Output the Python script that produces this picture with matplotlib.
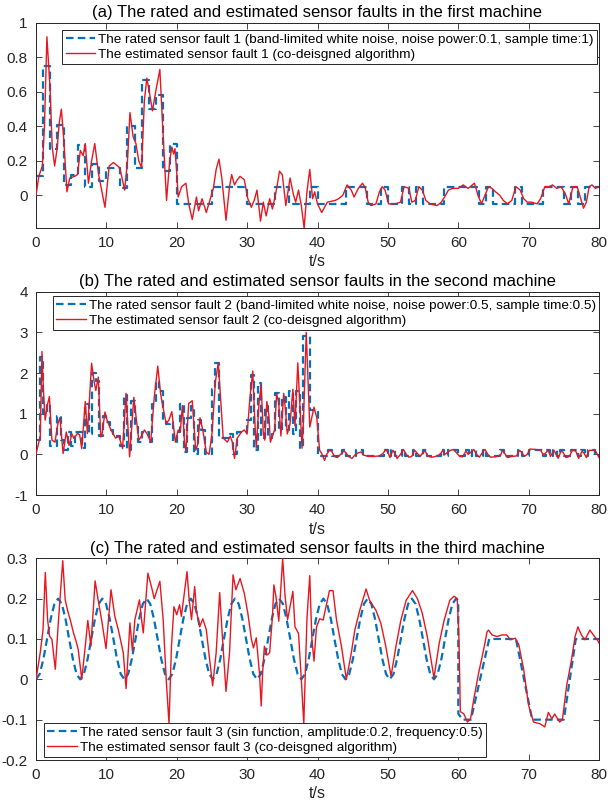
import matplotlib
matplotlib.use("Agg")
import matplotlib.pyplot as plt

plt.rcParams['font.family'] = ['Liberation Sans', 'DejaVu Sans']

# ---------------- data ----------------
titles = ["(a) The rated and estimated sensor faults in the first machine",
          "(b) The rated and estimated sensor faults in the second machine",
          "(c) The rated and estimated sensor faults in the third machine"]
legend_rated = ["The rated sensor fault 1 (band-limited white noise, noise power:0.1, sample time:1)",
                "The rated sensor fault 2 (band-limited white noise, noise power:0.5, sample time:0.5)",
                "The rated sensor fault 3 (sin function, amplitude:0.2, frequency:0.5)"]
legend_est = ["The estimated sensor fault 1 (co-deisgned algorithm)",
              "The estimated sensor fault 2 (co-deisgned algorithm)",
              "The estimated sensor fault 3 (co-deisgned algorithm)"]
xlabel_text = "t/s"
x_ticks = [0, 10, 20, 30, 40, 50, 60, 70, 80]
y_ticks_a = [0, 0.2, 0.4, 0.6, 0.8, 1]
y_ticklabels_a = ["0", "0.2", "0.4", "0.6", "0.8", "1"]
y_ticks_b = [-1, 0, 1, 2, 3, 4]
y_ticklabels_b = ["-1", "0", "1", "2", "3", "4"]
y_ticks_c = [-0.2, -0.1, 0, 0.1, 0.2, 0.3]
y_ticklabels_c = ["-0.2", "-0.1", "0", "0.1", "0.2", "0.3"]

# rated fault 1 (step changes: time, level)
rated1_t = [0, 1, 2, 3, 4, 5, 6, 7, 8, 9, 10, 12, 13, 14, 15, 16, 17, 18, 19, 20,
            25, 30, 34, 36, 39, 40, 44, 47, 49, 50, 52, 53, 54, 55, 58, 63, 64, 65,
            68, 69, 72, 75, 76, 77, 78, 80]
rated1_v = [0.11, 0.75, 0.27, 0.41, 0.06, 0.12, 0.29, 0.05, 0.18, 0.08, 0.16, 0.04, 0.40,
            0.16, 0.67, 0.50, 0.58, 0.14, 0.30, -0.05,
            0.05, -0.05, 0.05, -0.05, 0.05, -0.05, 0.05, -0.05, 0.05, -0.05, 0.05, -0.05,
            0.05, -0.05, 0.05, -0.05, 0.05, -0.05, 0.05, -0.05, 0.05, -0.05, 0.05, -0.05,
            0.05, 0.05]

# estimated fault 1
est1_t = [0, 0.4, 0.9, 1.2, 1.55, 2.0, 2.3, 2.65, 3.0, 3.3, 3.6, 3.9, 4.4, 4.8, 5.5, 5.9,
          6.3, 6.7, 7.0, 7.45, 7.9, 8.35, 8.9, 9.8, 10.4, 11.0, 11.9, 12.6, 13.0, 13.35,
          13.8, 14.2, 14.6, 15.0, 15.4, 15.75, 16.1, 16.55, 17.0, 17.6, 18.0, 18.55, 19.0,
          19.3, 19.55, 19.75, 20.0, 20.2, 20.7, 21.3, 21.7, 22.2, 22.8, 23.1, 23.6, 24.2,
          24.7, 25.2, 25.6, 26.0, 26.4, 27.0, 27.5, 27.8, 28.2, 28.6, 29.0, 29.6, 30.1,
          30.6, 31.0, 31.4, 31.9, 32.3, 32.7, 33.2, 33.6, 34.2, 34.6, 35.0, 35.5, 36.1,
          36.6, 36.9, 37.3, 37.7, 38.1, 38.5, 38.9, 39.3, 39.6, 40.0, 40.6, 41.4, 42.5,
          43.0, 43.6, 44.2, 44.8, 45.2, 45.8, 46.4, 46.8, 47.2, 47.6, 48.3, 48.8, 49.2,
          49.6, 50.1, 51.0, 51.8, 52.3, 53.0, 53.4, 53.9, 54.4, 54.9, 55.4, 56.0, 57.0,
          57.6, 58.2, 58.6, 59.2, 60.0, 60.7, 61.4, 62.3, 62.8, 63.3, 63.8, 64.3, 64.8,
          65.3, 65.9, 66.4, 67.0, 67.6, 68.2, 68.8, 69.3, 69.8, 70.4, 71.2, 71.7, 72.3,
          72.9, 73.4, 74.0, 74.6, 75.2, 75.7, 76.3, 76.9, 77.4, 77.8, 78.2, 78.6, 79.0,
          79.5, 80.0]
est1_v = [0, 0.11, 0.17, 0.4, 0.92, 0.62, 0.28, 0.17, 0.27, 0.42, 0.50, 0.35, 0.02, 0.10,
          0.11, 0.12, 0.26, 0.23, 0.30, 0.07, 0.2, 0.30, 0.12, -0.07, 0.17, 0.19, 0.16,
          0.03, 0.2, 0.48, 0.34, 0.3, 0.2, 0.16, 0.55, 0.68, 0.6, 0.49, 0.6, 0.73, 0.4,
          -0.03, 0.2, 0.28, 0.24, 0.27, 0.13, -0.01, 0.05, 0.07, -0.05, -0.14, -0.01,
          -0.09, -0.02, -0.1, -0.03, 0.04, 0.15, 0.21, 0.1, -0.145, 0.05, 0.12, 0.06,
          0.09, 0.11, 0.09, -0.02, -0.07, -0.03, 0.03, -0.15, -0.04, -0.12, -0.02, -0.08,
          0.04, 0.14, 0.12, -0.06, 0.1, 0.0, -0.04, 0.03, -0.06, -0.19, 0.02, 0.15, -0.02,
          0.02, -0.05, -0.10, -0.04, -0.03, -0.02, 0.0, 0.06, 0.03, -0.01, 0.04, 0.07,
          0.04, -0.04, -0.06, -0.05, 0.02, 0.05, 0.03, -0.05, -0.05, -0.04, 0.05, 0.04,
          -0.04, -0.03, 0.05, 0.03, -0.03, -0.05, -0.06, -0.04, 0.0, 0.03, 0.04, 0.04,
          0.06, 0.04, 0.07, 0.0, -0.05, 0.0, 0.05, 0.04, 0.02, 0.0, -0.03, -0.05, -0.03,
          0.05, 0.03, -0.02, -0.04, -0.04, -0.05, -0.02, 0.05, 0.05, 0.06, 0.04, 0.05,
          0.01, -0.05, 0.05, 0.05, -0.02, -0.075, -0.04, 0.05, 0.06, 0.04, 0.05]

# rated fault 2 (step changes: time, level)
rated2_t = [0, 0.5, 1.0, 1.5, 2.0, 3.0, 3.5, 4.0, 4.5, 5.0, 5.5, 6.5, 7.0, 7.5, 8.0, 8.5,
            9.0, 9.5, 10.0, 10.5, 11.0, 12.0, 12.5, 13.0, 13.5, 14.0, 14.5, 15.0, 16.0,
            16.5, 17.0, 17.5, 18.0, 18.5, 19.0, 19.5, 20.0, 20.5, 21.0, 21.5, 22.0, 22.5,
            23.0, 23.5, 24.0, 25.0, 25.5, 26.0, 27.5, 28.0, 28.5, 30.0, 30.5, 31.0, 31.5,
            32.0, 32.5, 33.0, 33.5, 34.0, 34.5, 35.0, 35.5, 36.0, 36.5, 37.0, 37.5, 38.0,
            39.0, 40.0, 41.5, 42.0, 43.5, 44.0, 45.5, 46.5, 49.5, 50.0, 50.5, 51.0, 52.0,
            52.5, 53.5, 54.0, 55.0, 55.5, 57.5, 58.0, 58.5, 60.0, 61.0, 61.5, 62.0, 62.5,
            63.5, 64.0, 66.0, 66.5, 68.5, 69.0, 70.0, 72.0, 72.5, 73.0, 73.5, 74.0, 74.5,
            75.0, 76.0, 77.0, 77.5, 78.0, 78.5, 79.5, 80.0]
rated2_v = [0.35, 2.4, 1.0, 1.25, 0.2, 0.95, 0.35, 0.1, 0.55, 0.2, 0.55, 0.15, 1.25, 0.5,
            2.0, 1.8, 0.45, 0.95, 0.8, 0.6, 0.45, 0.2, 1.45, 0.1, 1.3, 0.75, 0.3, 0.55,
            0.3, 1.25, 1.8, 1.55, 0.85, 0.75, 0.8, 0.3, 0.55, 1.25, 0.05, 0.9, 1.2, 0.0,
            0.85, 0.6, 0.0, 1.6, 2.25, 0.4, 0.5, 0.0, 0.55, 0.85, 1.95, 0.1, 1.75, 0.4,
            1.2, 0.4, 0.5, 1.5, 0.6, 1.4, 0.6, 1.55, 0.5, 1.55, 0.15, 2.9, 1.1,
            -0.05, 0.1, -0.05, 0.1, -0.05, 0.1, -0.05, 0.1, -0.05, 0.1, -0.05, 0.1, -0.05,
            0.1, -0.05, 0.1, -0.05, 0.1, -0.05, 0.1, -0.05, 0.1, -0.05, 0.1, -0.05, 0.1,
            -0.05, 0.1, -0.05, 0.1, -0.05, 0.1, -0.05, 0.1, -0.05, 0.1, -0.05, 0.1, -0.05,
            0.1, -0.05, 0.1, -0.05, 0.1, -0.05, -0.05]

# estimated fault 2
est2_t = [0, 0.4, 0.6, 0.85, 1.05, 1.3, 1.6, 1.9, 2.26, 2.7, 3.1, 3.4, 3.85, 4.3, 4.7,
          5.1, 5.4, 5.9, 6.2, 6.5, 7.0, 7.3, 7.9, 8.25, 8.5, 8.85, 9.2, 9.35, 9.8, 10.1,
          10.6, 11.3, 11.8, 12.3, 12.8, 13.3, 13.9, 14.3, 14.6, 15.0, 15.4, 15.8, 16.3,
          16.8, 17.3, 17.7, 18.0, 18.5, 18.9, 19.3, 19.6, 19.8, 20.2, 20.5, 20.8, 21.1,
          21.3, 21.7, 22.2, 22.7, 23.0, 23.3, 23.7, 24.2, 24.6, 25.0, 25.5, 25.9, 26.3,
          26.6, 27.2, 27.6, 27.9, 28.2, 28.6, 29.2, 29.6, 30.0, 30.4, 30.8, 31.1, 31.3,
          31.7, 32.0, 32.3, 32.5, 32.8, 33.1, 33.3, 33.6, 33.9, 34.2, 34.5, 34.8, 35.2,
          35.5, 35.7, 36.1, 36.5, 36.8, 37.2, 37.5, 37.8, 38.0, 38.4, 38.9, 39.5, 39.9,
          40.3, 40.6, 41.0, 41.3, 41.7, 42.0, 42.4, 42.8, 43.3, 43.7, 44.0, 44.4, 44.9,
          45.3, 45.7, 46.2, 46.6, 47.2, 48.0, 48.8, 49.3, 49.7, 50.0, 50.3, 50.7, 51.0,
          51.3, 51.8, 52.2, 52.6, 53.0, 53.4, 53.8, 54.2, 54.6, 55.0, 55.3, 55.7, 56.3,
          57.0, 57.5, 57.8, 58.1, 58.5, 58.9, 59.3, 59.7, 60.2, 60.6, 61.1, 61.4, 61.8,
          62.2, 62.6, 63.0, 63.5, 63.8, 64.2, 64.6, 65.3, 66.0, 66.3, 66.6, 67.0, 67.6,
          68.3, 68.7, 69.0, 69.4, 69.8, 70.2, 71.0, 71.7, 72.1, 72.4, 72.8, 73.1, 73.6,
          73.9, 74.2, 74.6, 74.9, 75.3, 75.8, 76.2, 76.7, 77.1, 77.6, 77.9, 78.2, 78.6,
          79.0, 79.4, 79.7, 80.0]
est2_v = [0, 0.3, 0.4, 2.53, 1.6, 0.84, 1.2, 1.42, 0.35, 0.3, 0.75, 0.9, 0.02, 0.55,
          0.22, 0.5, 0.39, 0.52, 0.48, 0.14, 1.3, 0.51, 2.24, 1.8, 1.57, 1.9, 0.43, 0.45,
          1.04, 0.84, 0.62, 0.4, 0.44, 0.14, 1.5, -0.06, 1.4, 0.8, 0.35, 0.45, 0.6, 0.5,
          0.3, 1.4, 2.17, 1.5, 1.2, 0.75, 0.85, 1.05, 0.6, 0.3, 0.6, 0.55, 1.2, 0.3,
          0.08, 1.25, 1.32, 0.1, 0.25, 0.9, 0.6, 0.05, 0.0, 0.5, 1.8, 2.25, 1.2, 0.4,
          0.3, 0.45, 0.3, -0.1, 0.4, 0.55, 0.6, 0.5, 1.4, 2.05, 0.8, 0.15, 1.3, 1.7, 0.5,
          0.35, 1.3, 0.95, 0.3, 0.45, 0.6, 1.5, 1.25, 0.45, 1.5, 1.0, 0.5, 0.75, 1.6,
          0.7, 2.25, 1.2, 0.15, 0.8, 3.0, 0.67, 1.16, 0.9,
          0.1, 0.02, -0.15, 0.0, 0.1, 0.08, -0.05, -0.08, 0.0, 0.08, 0.05, -0.05, -0.1,
          -0.02, 0.03, 0.06, -0.02, -0.05, -0.05, -0.04, 0.02, 0.12, 0.05, -0.08, 0.1,
          0.02, -0.1, 0.0, 0.12, 0.0, -0.07, -0.05, 0.1, 0.02, -0.05, 0.05, 0.08, -0.05,
          -0.07, -0.04, 0.02, 0.1, 0.0, 0.05, 0.1, 0.12, 0.05, -0.05, -0.06, 0.08, 0.0,
          0.05, 0.12, 0.0, -0.07, 0.06, 0.12, 0.0, -0.07, -0.06, -0.02, 0.1, 0.02, -0.08,
          -0.05, -0.04, 0.1, 0.05, -0.05, 0.0, 0.13, 0.12, 0.1, -0.02, 0.03, 0.1, -0.05,
          0.1, 0.0, -0.1, 0.08, 0.05, -0.08, -0.05, 0.1, 0.08, -0.1, 0.08, 0.02, -0.08,
          0.1, 0.1, 0.12, 0.02, -0.08]

# rated fault 3
rated3_t = [0.00, 0.52, 1.05, 1.57, 2.09, 2.62, 3.14, 3.67, 4.19, 4.71, 5.24, 5.76,
            6.28, 6.81, 7.33, 7.85, 8.38, 8.90, 9.42, 9.95, 10.47, 11.00, 11.52, 12.04,
            12.57, 13.09, 13.61, 14.14, 14.66, 15.18, 15.71, 16.23, 16.76, 17.28, 17.80, 18.33,
            18.85, 19.37, 19.90, 20.42, 20.94, 21.47, 21.99, 22.51, 23.04, 23.56, 24.09, 24.61,
            25.13, 25.66, 26.18, 26.70, 27.23, 27.75, 28.27, 28.80, 29.32, 29.85, 30.37, 30.89,
            31.42, 31.94, 32.46, 32.99, 33.51, 34.03, 34.56, 35.08, 35.60, 36.13, 36.65, 37.18,
            37.70, 38.22, 38.75, 39.27, 39.79, 40.32, 40.84, 41.36, 41.89, 42.41, 42.94, 43.46,
            43.98, 44.51, 45.03, 45.55, 46.08, 46.60, 47.12, 47.65, 48.17, 48.69, 49.22, 49.74,
            50.27, 50.79, 51.31, 51.84, 52.36, 52.88, 53.41, 53.93, 54.45, 54.98, 55.50, 56.02,
            56.55, 57.07, 57.60, 58.12, 58.64, 59.17, 59.69, 60.00,
            60.01, 60.6, 61.8, 64.4, 68.2, 70.5, 75.0, 76.7, 80.0]
rated3_v = [0, 0.013, 0.05, 0.1, 0.15, 0.187, 0.2, 0.187, 0.15, 0.1, 0.05, 0.013,
            0, 0.013, 0.05, 0.1, 0.15, 0.187, 0.2, 0.187, 0.15, 0.1, 0.05, 0.013,
            0, 0.013, 0.05, 0.1, 0.15, 0.187, 0.2, 0.187, 0.15, 0.1, 0.05, 0.013,
            0, 0.013, 0.05, 0.1, 0.15, 0.187, 0.2, 0.187, 0.15, 0.1, 0.05, 0.013,
            0, 0.013, 0.05, 0.1, 0.15, 0.187, 0.2, 0.187, 0.15, 0.1, 0.05, 0.013,
            0, 0.013, 0.05, 0.1, 0.15, 0.187, 0.2, 0.187, 0.15, 0.1, 0.05, 0.013,
            0, 0.013, 0.05, 0.1, 0.15, 0.187, 0.2, 0.187, 0.15, 0.1, 0.05, 0.013,
            0, 0.013, 0.05, 0.1, 0.15, 0.187, 0.2, 0.187, 0.15, 0.1, 0.05, 0.013,
            0, 0.013, 0.05, 0.1, 0.15, 0.187, 0.2, 0.187, 0.15, 0.1, 0.05, 0.013,
            0, 0.013, 0.05, 0.1, 0.15, 0.187, 0.2, 0.195,
            -0.085, -0.1, -0.1, 0.1, 0.1, -0.1, -0.1, 0.1, 0.1]

# estimated fault 3
est3_t = [0, 0.6, 1.0, 1.32, 1.65, 1.93, 2.26, 2.74, 3.2, 3.8, 4.15, 4.5, 4.86, 5.33, 5.7,
          6.0, 6.5, 7.0, 7.36, 7.8, 8.4, 8.8, 9.3, 9.95, 10.66, 11.2, 11.7, 12.4, 12.8,
          13.35, 13.7, 14.05, 14.7, 15.0, 15.24, 15.9, 16.4, 16.8, 17.6, 18.07, 18.5, 18.9,
          19.25, 19.6, 20.0, 20.4, 20.66, 21.46, 21.75, 22.1, 22.55, 22.8, 23.25, 23.7,
          24.2, 24.6, 25.1, 25.6, 26.1, 26.5, 27.0, 27.5, 28.0, 28.4, 29.0, 29.6, 30.1,
          30.6, 30.9, 31.3, 31.75, 32.0, 32.2, 32.45, 32.8, 33.2, 33.6, 33.8, 34.1, 34.5,
          35.05, 35.4, 35.75, 36.5, 36.8, 37.3, 37.7, 38.05, 38.5, 38.9, 39.2, 39.5, 39.86,
          40.3, 40.8, 41.3, 41.7, 42.2, 42.7, 43.4, 44.1, 44.8, 45.3, 46.0, 46.9, 47.4,
          48.3, 49.0, 49.7, 50.45, 51.15, 51.85, 52.6, 53.5, 54.2, 54.9, 55.6, 56.55, 57.3,
          58.0, 58.8, 59.4, 59.86, 60.1, 60.3, 60.8, 61.3, 61.75, 62.2, 62.9, 63.6, 64.1,
          64.3, 64.8, 65.5, 66.2, 66.9, 67.4, 68.1, 68.6, 69.3, 70.0, 70.7, 71.6, 72.3,
          72.8, 73.3, 73.7, 74.4, 74.8, 75.4, 76.1, 76.6, 77.0, 77.5, 78.0, 78.7, 79.2,
          79.9, 80.0]
est3_v = [0, 0.066, 0.123, 0.265, 0.148, 0.107, 0.099, 0.025, 0.148, 0.294, 0.197, 0.17,
          0.148, 0.115, 0.094, 0.074, 0.0, 0.082, 0.146, 0.082, 0.244, 0.2, 0.15, 0.076,
          0.222, 0.156, 0.123, 0.066, -0.023, 0.14, 0.07, 0.148, 0.197, 0.148, 0.115,
          0.263, 0.23, 0.2, 0.243, 0.148, 0.0, -0.11, 0.082, 0.18, 0.16, 0.185, 0.156,
          0.267, 0.2, 0.148, 0.23, 0.17, 0.13, 0.15, 0.123, 0.06, -0.016, 0.066, 0.215,
          0.1, -0.03, 0.066, 0.259, 0.222, 0.25, 0.213, 0.164, 0.1, 0.078, 0.103, 0.016,
          -0.066, 0.016, 0.082, 0.06, 0.066, 0.156, 0.234, 0.205, 0.144, 0.3, 0.205, 0.148,
          0.218, 0.13, 0.114, 0.0, -0.11, 0.15, 0.257, 0.1, 0.045, 0.13, 0.15, 0.147,
          0.188, 0.22, 0.22, 0.147, 0.082, 0.0, 0.065, 0.122, 0.171, 0.224, 0.196, 0.171,
          0.139, 0.082, 0.008, 0.082, 0.147, 0.196, 0.22, 0.2, 0.163, 0.106, 0.004, 0.09,
          0.147, 0.196, 0.206, 0.2, 0.1, -0.08, -0.086, -0.106, -0.098, -0.05, 0.016,
          0.073, 0.118, 0.122, 0.11, 0.106, 0.11, 0.11, 0.098, 0.102, 0.086, 0.024,
          -0.065, -0.106, -0.11, -0.118, -0.082, -0.098, -0.086, -0.106, -0.1, -0.016,
          0.049, 0.106, 0.13, 0.11, 0.098, 0.122, 0.11, 0.094, 0.09]

# ---------------- drawing ----------------
BLUE = "#0072BD"
RED = "#E8161E"
DARK = "#262626"

fig = plt.figure(figsize=(6.1, 8.1), dpi=100)
W, H = 610.0, 810.0

def axes_px(left, top, right, bottom):
    return fig.add_axes([left / W, 1 - bottom / H, (right - left) / W, (bottom - top) / H])

ax_a = axes_px(36, 23, 599, 228)
ax_b = axes_px(36, 291.7, 599, 495)
ax_c = axes_px(36, 558.3, 599, 760)

panels = [
    (ax_a, rated1_t, rated1_v, est1_t, est1_v, True, (-0.19, 1.0), y_ticks_a, y_ticklabels_a,
     dict(loc="upper right", bbox_to_anchor=(0.996, 0.966))),
    (ax_b, rated2_t, rated2_v, est2_t, est2_v, True, (-1, 4), y_ticks_b, y_ticklabels_b,
     dict(loc="upper right", bbox_to_anchor=(1.0, 0.979))),
    (ax_c, rated3_t, rated3_v, est3_t, est3_v, False, (-0.2, 0.3), y_ticks_c, y_ticklabels_c,
     dict(loc="lower left", bbox_to_anchor=(0.014, 0.015))),
]

for i, (ax, rt, rv, et, ev, is_step, ylim, yt, ytl, legkw) in enumerate(panels):
    if is_step:
        l1, = ax.step(rt, rv, where="post", color=BLUE, lw=1.6, dashes=(3.4, 1.9),
                      label=legend_rated[i], zorder=2)
    else:
        l1, = ax.plot(rt, rv, color=BLUE, lw=1.6, dashes=(3.4, 1.9),
                      label=legend_rated[i], zorder=2)
    l2, = ax.plot(et, ev, color=RED, lw=1.0, label=legend_est[i], zorder=3,
                  solid_joinstyle="round")
    ax.set_xlim(0, 80)
    ax.set_ylim(*ylim)
    ax.set_xticks(x_ticks)
    ax.set_xticklabels([str(x) for x in x_ticks])
    ax.set_yticks(yt)
    ax.set_yticklabels(ytl)
    ax.tick_params(direction="in", top=True, right=True, length=4, width=0.6,
                   colors=DARK, labelsize=11, pad=6)
    for sp in ax.spines.values():
        sp.set_color(DARK)
        sp.set_linewidth(0.7)
    ax.set_title(titles[i], fontsize=12, color="black", pad=4)
    ax.set_xlabel(xlabel_text, fontsize=11.5, color=DARK, labelpad=3)
    leg = ax.legend(handles=[l1, l2], fontsize=9.7, frameon=True, fancybox=False,
                    framealpha=1, edgecolor=DARK, borderaxespad=0, borderpad=0.25,
                    labelspacing=0.18, handlelength=2.2, handletextpad=0.2, **legkw)
    leg.get_frame().set_linewidth(0.7)
    leg.set_zorder(5)

fig.savefig("out.png", dpi=100)
